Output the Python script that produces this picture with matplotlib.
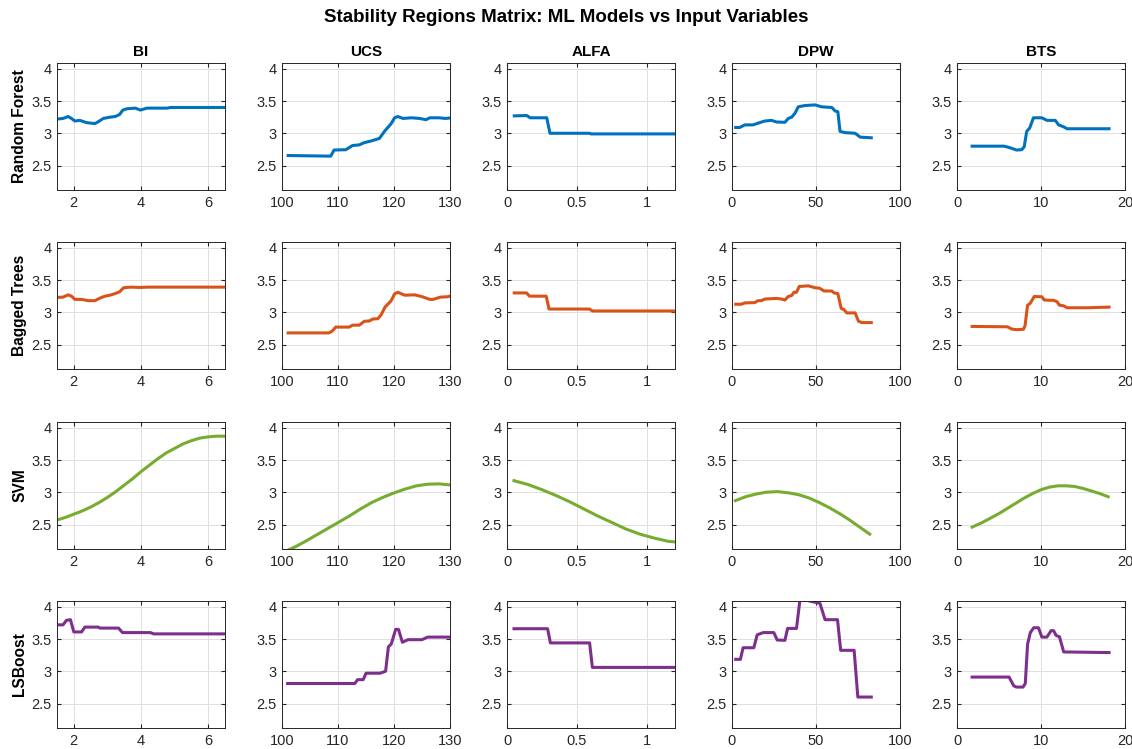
import matplotlib
matplotlib.use("Agg")
import matplotlib.pyplot as plt

plt.rcParams['font.family'] = ['Liberation Sans', 'DejaVu Sans']

MODELS = ['Random Forest', 'Bagged Trees', 'SVM', 'LSBoost']
VARIABLES = ['BI', 'UCS', 'ALFA', 'DPW', 'BTS']
COLORS = ['#0072BD', '#D95319', '#77AC30', '#7E2F8E']

XLIMS = [(1.5, 6.5), (100, 130), (0, 1.2), (0, 100), (0, 20)]
XTICKS = [[2, 4, 6], [100, 110, 120, 130], [0, 0.5, 1], [0, 50, 100], [0, 10, 20]]
XTICKLABELS = [['2', '4', '6'], ['100', '110', '120', '130'], ['0', '0.5', '1'], ['0', '50', '100'], ['0', '10', '20']]
YTICKS = [2.5, 3, 3.5, 4]
YTICKLABELS = ['2.5', '3', '3.5', '4']

# Random Forest
rf_bi_x = [1.5, 1.68, 1.83, 1.93, 2.03, 2.18, 2.38, 2.63, 2.73, 2.88, 3.08, 3.23, 3.36, 3.46, 3.58, 3.83, 3.98, 4.18, 4.78, 4.88, 6.5]
rf_bi_y = [3.22, 3.23, 3.26, 3.23, 3.19, 3.2, 3.165, 3.15, 3.18, 3.23, 3.25, 3.26, 3.29, 3.36, 3.38, 3.39, 3.36, 3.39, 3.39, 3.40, 3.40]
rf_ucs_x = [101.1, 108.7, 109.3, 111.4, 112.6, 113.8, 114.7, 115.9, 117.4, 118.3, 119.5, 120.1, 120.7, 121.6, 123.1, 124.6, 125.7, 126.4, 128.0, 129.2, 130.4]
rf_ucs_y = [2.655, 2.645, 2.74, 2.745, 2.81, 2.82, 2.855, 2.88, 2.92, 3.03, 3.15, 3.24, 3.26, 3.23, 3.24, 3.23, 3.21, 3.24, 3.24, 3.23, 3.24]
rf_alfa_x = [0.052, 0.142, 0.165, 0.284, 0.307, 0.59, 0.60, 1.2]
rf_alfa_y = [3.27, 3.275, 3.24, 3.24, 3.0, 3.0, 2.99, 2.99]
rf_dpw_x = [2.2, 4.6, 7.6, 12.5, 16.5, 19.5, 23.5, 26.5, 31.5, 33.5, 35.5, 37.5, 39.4, 43.4, 49.4, 53.4, 59.4, 61.4, 63.0, 64.3, 67.3, 73.3, 76.3, 82.9]
rf_dpw_y = [3.09, 3.09, 3.13, 3.13, 3.165, 3.19, 3.20, 3.175, 3.17, 3.23, 3.25, 3.31, 3.41, 3.43, 3.44, 3.41, 3.40, 3.345, 3.335, 3.03, 3.01, 3.0, 2.94, 2.93]
rf_bts_x = [1.8, 5.6, 6.2, 7.1, 7.7, 8.0, 8.3, 8.65, 9.1, 10.1, 10.7, 11.7, 12.1, 12.7, 13.1, 18.1]
rf_bts_y = [2.80, 2.80, 2.78, 2.74, 2.745, 2.79, 3.03, 3.08, 3.24, 3.24, 3.20, 3.20, 3.13, 3.10, 3.07, 3.07]

# Bagged Trees
bt_bi_x = [1.5, 1.68, 1.83, 1.93, 2.03, 2.23, 2.43, 2.63, 2.78, 2.93, 3.08, 3.23, 3.36, 3.48, 3.68, 3.98, 4.18, 6.5]
bt_bi_y = [3.23, 3.235, 3.27, 3.25, 3.20, 3.20, 3.18, 3.18, 3.22, 3.25, 3.265, 3.29, 3.315, 3.38, 3.39, 3.385, 3.39, 3.39]
bt_ucs_x = [101.1, 108.4, 109.0, 109.6, 112.0, 112.6, 113.8, 114.7, 115.6, 116.2, 117.1, 117.7, 118.4, 119.5, 120.1, 120.7, 121.9, 123.7, 124.9, 126.4, 127.0, 128.3, 129.5, 130.4]
bt_ucs_y = [2.68, 2.68, 2.71, 2.77, 2.77, 2.80, 2.80, 2.86, 2.865, 2.895, 2.90, 2.96, 3.08, 3.18, 3.285, 3.31, 3.265, 3.27, 3.245, 3.20, 3.20, 3.235, 3.24, 3.26]
bt_alfa_x = [0.052, 0.14, 0.16, 0.28, 0.30, 0.59, 0.61, 1.2]
bt_alfa_y = [3.30, 3.30, 3.25, 3.25, 3.05, 3.05, 3.02, 3.02]
bt_dpw_x = [2.2, 5.6, 7.6, 13.5, 15.5, 17.5, 19.5, 26.5, 29.5, 31.5, 33.5, 35.5, 36.9, 38.4, 40.0, 45.4, 49.4, 52.0, 54.8, 59.4, 60.8, 63.0, 65.0, 66.7, 68.3, 73.3, 75.3, 77.3, 82.9]
bt_dpw_y = [3.125, 3.125, 3.145, 3.15, 3.18, 3.18, 3.205, 3.215, 3.205, 3.19, 3.245, 3.26, 3.31, 3.31, 3.40, 3.41, 3.38, 3.375, 3.33, 3.33, 3.30, 3.29, 3.06, 3.04, 2.99, 2.99, 2.86, 2.84, 2.84]
bt_bts_x = [1.8, 6.0, 6.5, 7.1, 7.9, 8.1, 8.4, 8.7, 9.2, 10.1, 10.4, 11.5, 11.9, 12.2, 12.7, 13.1, 15.5, 18.1]
bt_bts_y = [2.78, 2.775, 2.74, 2.73, 2.735, 2.79, 3.11, 3.135, 3.245, 3.24, 3.19, 3.185, 3.165, 3.11, 3.10, 3.07, 3.07, 3.08]

# SVM
svm_bi_x = [1.5, 1.75, 2.0, 2.25, 2.5, 2.75, 3.0, 3.25, 3.5, 3.75, 4.0, 4.25, 4.5, 4.75, 5.0, 5.25, 5.5, 5.75, 6.0, 6.25, 6.5]
svm_bi_y = [2.57, 2.61, 2.66, 2.71, 2.77, 2.84, 2.92, 3.01, 3.11, 3.21, 3.32, 3.42, 3.52, 3.61, 3.68, 3.75, 3.80, 3.84, 3.86, 3.87, 3.87]
svm_ucs_x = [101, 102.5, 104, 106, 108, 110, 112, 114, 116, 118, 120, 122, 124, 126, 128, 130.5]
svm_ucs_y = [2.10, 2.16, 2.23, 2.33, 2.43, 2.53, 2.63, 2.74, 2.84, 2.92, 2.99, 3.05, 3.10, 3.125, 3.13, 3.11]
svm_alfa_x = [0.05, 0.15, 0.25, 0.35, 0.45, 0.55, 0.65, 0.75, 0.85, 0.95, 1.05, 1.15, 1.2]
svm_alfa_y = [3.18, 3.12, 3.04, 2.95, 2.85, 2.74, 2.63, 2.53, 2.43, 2.35, 2.29, 2.24, 2.23]
svm_dpw_x = [2, 8, 14, 20, 27, 34, 40, 46, 52, 58, 64, 70, 76, 82]
svm_dpw_y = [2.87, 2.93, 2.97, 3.0, 3.01, 2.99, 2.96, 2.91, 2.84, 2.76, 2.67, 2.57, 2.46, 2.35]
svm_bts_x = [1.8, 3, 4, 5, 6, 7, 8, 9, 10, 11, 12, 13, 14, 15, 16, 17, 18]
svm_bts_y = [2.46, 2.53, 2.6, 2.67, 2.75, 2.83, 2.91, 2.98, 3.04, 3.08, 3.1, 3.1, 3.09, 3.06, 3.02, 2.98, 2.93]

# LSBoost
ls_bi_x = [1.5, 1.68, 1.78, 1.9, 2.0, 2.23, 2.33, 2.73, 2.78, 3.33, 3.45, 4.28, 4.38, 6.5]
ls_bi_y = [3.72, 3.72, 3.79, 3.80, 3.61, 3.61, 3.685, 3.685, 3.67, 3.67, 3.60, 3.60, 3.58, 3.58]
ls_ucs_x = [101, 113, 113.5, 114.5, 115, 117.5, 118.5, 119, 119.5, 120.3, 120.8, 121.5, 122.5, 125, 126, 130.5]
ls_ucs_y = [2.81, 2.81, 2.87, 2.87, 2.97, 2.97, 3.0, 3.38, 3.42, 3.65, 3.65, 3.45, 3.49, 3.49, 3.53, 3.53]
ls_alfa_x = [0.05, 0.29, 0.31, 0.59, 0.61, 1.2]
ls_alfa_y = [3.66, 3.66, 3.44, 3.44, 3.06, 3.06]
ls_dpw_x = [2.2, 5.0, 6.6, 13.0, 15.0, 16.5, 18.5, 24.9, 26.9, 31.5, 33.1, 38.4, 40.4, 44.4, 51.4, 52.4, 55.4, 62.8, 64.7, 72.7, 74.9, 82.9]
ls_dpw_y = [3.185, 3.185, 3.365, 3.365, 3.565, 3.58, 3.60, 3.60, 3.485, 3.48, 3.665, 3.665, 4.1, 4.1, 4.06, 4.05, 3.80, 3.80, 3.325, 3.325, 2.60, 2.60]
ls_bts_x = [1.8, 6.2, 6.75, 7.06, 7.86, 8.13, 8.4, 8.73, 9.13, 9.7, 10.1, 10.7, 11.2, 11.5, 11.8, 12.2, 12.7, 18.1]
ls_bts_y = [2.91, 2.91, 2.775, 2.755, 2.755, 2.81, 3.42, 3.60, 3.675, 3.675, 3.53, 3.53, 3.63, 3.63, 3.555, 3.535, 3.30, 3.29]

curves = [
    [(rf_bi_x, rf_bi_y), (rf_ucs_x, rf_ucs_y), (rf_alfa_x, rf_alfa_y), (rf_dpw_x, rf_dpw_y), (rf_bts_x, rf_bts_y)],
    [(bt_bi_x, bt_bi_y), (bt_ucs_x, bt_ucs_y), (bt_alfa_x, bt_alfa_y), (bt_dpw_x, bt_dpw_y), (bt_bts_x, bt_bts_y)],
    [(svm_bi_x, svm_bi_y), (svm_ucs_x, svm_ucs_y), (svm_alfa_x, svm_alfa_y), (svm_dpw_x, svm_dpw_y), (svm_bts_x, svm_bts_y)],
    [(ls_bi_x, ls_bi_y), (ls_ucs_x, ls_ucs_y), (ls_alfa_x, ls_alfa_y), (ls_dpw_x, ls_dpw_y), (ls_bts_x, ls_bts_y)],
]

W, H = 1132, 749
fig = plt.figure(figsize=(W / 100, H / 100), dpi=100)

lefts = [57, 282, 507, 732, 957]
tops = [63, 242, 422, 601]
aw, ah = 168, 127

for i, model in enumerate(MODELS):
    for j, var in enumerate(VARIABLES):
        ax = fig.add_axes([lefts[j] / W, 1 - (tops[i] + ah) / H, aw / W, ah / H])
        x, y = curves[i][j]
        ax.plot(x, y, color=COLORS[i], linewidth=2.2, solid_joinstyle='round')
        ax.set_xlim(XLIMS[j])
        ax.set_ylim(2.12, 4.09)
        ax.set_xticks(XTICKS[j])
        ax.set_xticklabels(XTICKLABELS[j])
        ax.set_yticks(YTICKS)
        ax.set_yticklabels(YTICKLABELS)
        ax.grid(True, color='#e0e0e0', linewidth=0.7)
        ax.set_axisbelow(True)
        ax.tick_params(direction='in', labelsize=10.5, colors='#262626', length=3, top=True, right=True, pad=4)
        for s in ax.spines.values():
            s.set_color('#262626')
            s.set_linewidth(0.7)
        if i == 0:
            ax.set_title(var, fontsize=11, fontweight='bold', pad=5)
        if j == 0:
            ax.set_ylabel(model, fontsize=11.2, fontweight='bold', labelpad=3)

fig.suptitle('Stability Regions Matrix: ML Models vs Input Variables', fontsize=13.5, fontweight='bold', y=1 - 18 / H, va='center')

fig.savefig('out.png', dpi=100)
